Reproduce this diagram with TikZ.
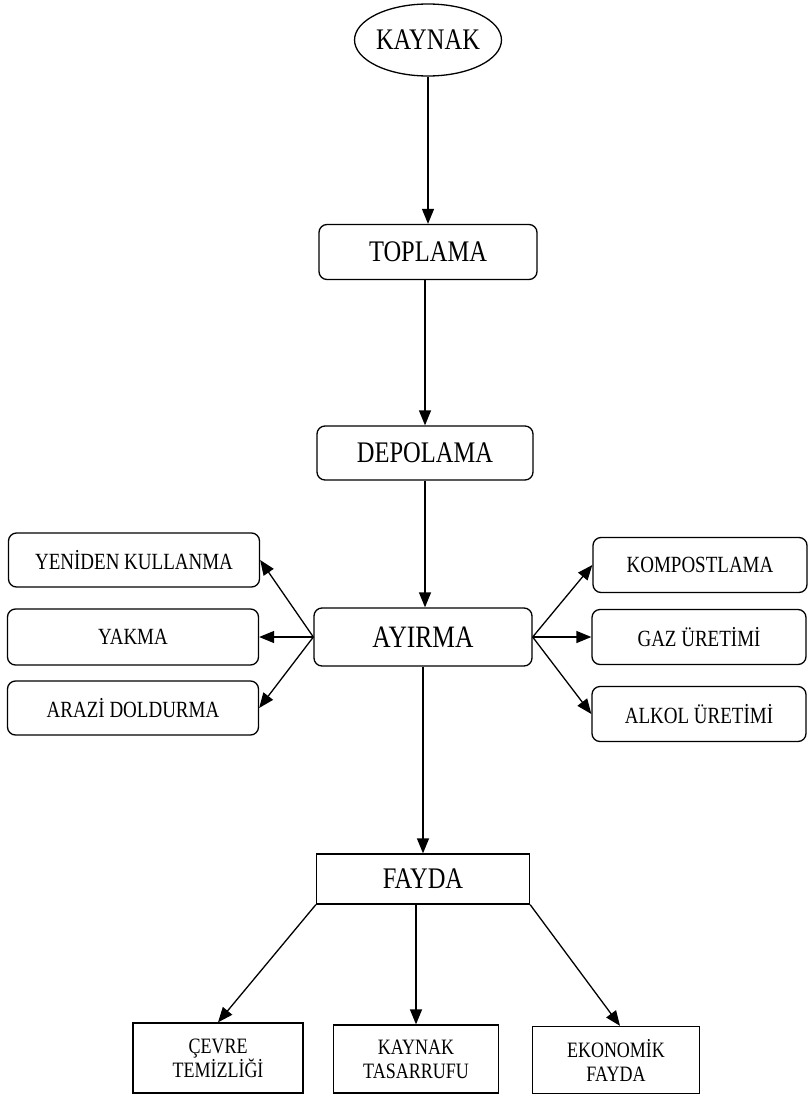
\documentclass[tikz,border=0pt]{standalone}
\usepackage{fontspec}
\usepackage{graphicx}
\setmainfont{Liberation Serif}
\usetikzlibrary{shapes.geometric,arrows.meta}
\newcommand\vt[1]{\scalebox{1}[1.22]{#1}}
\begin{document}
\begin{tikzpicture}[x=1pt,y=-1pt,
  rbox/.style={draw, rounded corners=8pt, line width=1.3pt, inner sep=0pt, align=center},
  sbox/.style={draw, line width=1.3pt, inner sep=0pt, align=center},
  arr/.style={line width=1.3pt, -{Triangle[length=15pt,width=12pt]}},
  big/.style={font=\fontsize{24.5}{28}\selectfont},
  mid/.style={font=\fontsize{19}{23}\selectfont},
  small/.style={font=\fontsize{18}{24}\selectfont}]
\useasboundingbox (0,0) rectangle (808,1100);
\node[draw, ellipse, line width=1.3pt, inner sep=0pt, minimum width=128pt, minimum height=72pt, big] (kaynak) at (428,40) {\vt{KAYNAK}};
\node[rbox, big, minimum width=218pt, minimum height=55pt] (toplama) at (428,252) {\vt{TOPLAMA}};
\node[rbox, big, minimum width=216pt, minimum height=54pt] (depolama) at (425,453) {\vt{DEPOLAMA}};
\node[rbox, font=\fontsize{25.5}{29}\selectfont, minimum width=218pt, minimum height=58pt] (ayirma) at (423,637) {\vt{AYIRMA}};
\node[rbox, mid, minimum width=251pt, minimum height=54pt] (yeniden) at (134,560) {\vt{YENİDEN KULLANMA}};
\node[rbox, mid, minimum width=251pt, minimum height=56pt] (yakma) at (133,637) {\vt{YAKMA}};
\node[rbox, mid, minimum width=251pt, minimum height=54pt] (arazi) at (133,708) {\vt{ARAZİ DOLDURMA}};
\node[rbox, mid, minimum width=214pt, minimum height=55pt] (kompost) at (700,565) {\vt{KOMPOSTLAMA}};
\node[rbox, mid, minimum width=214pt, minimum height=55pt] (gaz) at (699,637) {\vt{GAZ ÜRETİMİ}};
\node[rbox, mid, minimum width=214pt, minimum height=55pt] (alkol) at (699,714) {\vt{ALKOL ÜRETİMİ}};
\node[sbox, big, minimum width=213pt, minimum height=50pt] (fayda) at (423,879) {\vt{FAYDA}};
\node[sbox, small, minimum width=170pt, minimum height=70pt] (cevre) at (218,1058) {\vt{ÇEVRE}\\\vt{TEMİZLİĞİ}};
\node[sbox, small, minimum width=165pt, minimum height=68pt] (kt) at (416,1059) {\vt{KAYNAK}\\\vt{TASARRUFU}};
\node[sbox, small, minimum width=167pt, minimum height=67pt] (eko) at (616,1060) {\vt{EKONOMİK}\\\vt{FAYDA}};
\draw[arr] (kaynak.south) -- (kaynak.south |- toplama.north);
\draw[arr] (toplama.south -| depolama.north) -- (depolama.north);
\draw[arr] (depolama.south) -- (depolama.south |- ayirma.north);
\draw[arr] (ayirma.west) -- (yeniden.east);
\draw[arr] (ayirma.west) -- (yakma.east);
\draw[arr] (ayirma.west) -- (arazi.east);
\draw[arr] (ayirma.east) -- (kompost.west);
\draw[arr] (ayirma.east) -- (gaz.west);
\draw[arr] (ayirma.east) -- (alkol.west);
\draw[arr] (ayirma.south) -- (ayirma.south |- fayda.north);
\draw[arr] (fayda.south west) -- (cevre.north);
\draw[arr] (kt.north |- fayda.south) -- (kt.north);
\draw[arr] (fayda.south east) -- ([xshift=4pt]eko.north);
\end{tikzpicture}
\end{document}
